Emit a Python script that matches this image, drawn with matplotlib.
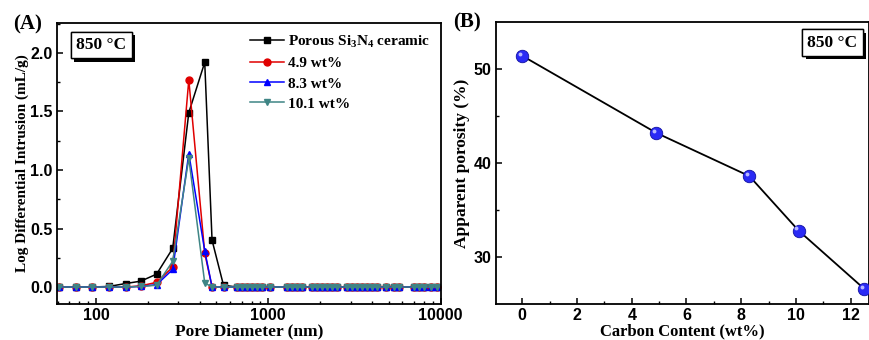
import numpy as np
import matplotlib
matplotlib.use("Agg")
import matplotlib.pyplot as plt
import matplotlib.transforms as mtrans
import matplotlib.patheffects as pe
from matplotlib.ticker import FixedLocator, LogLocator, NullFormatter, MultipleLocator

plt.rcParams['mathtext.fontset'] = 'custom'
plt.rcParams['mathtext.rm'] = 'Liberation Serif:bold'
plt.rcParams['mathtext.bf'] = 'Liberation Serif:bold'

# (A) pore size distribution
pore_d = [61, 76.6, 95, 119, 149, 182, 225, 279, 346, 428, 472, 550,
          658, 703, 752, 804, 859, 918, 1027, 1285, 1374, 1468, 1570, 1795,
          1919, 2051, 2193, 2344, 2506, 2868, 3066, 3278, 3505, 3747, 4006,
          4282, 4790, 5350, 5725, 7000, 7485, 8000, 8750, 9570]
y_si3n4 = [0, 0, 0, 0.005, 0.03, 0.05, 0.11, 0.33, 1.49, 1.92, 0.40, 0.015,
           0, 0, 0, 0, 0, 0, 0, 0, 0, 0, 0, 0, 0, 0, 0, 0, 0, 0, 0, 0,
           0, 0, 0, 0, 0, 0, 0, 0, 0, 0, 0, 0]
y_49 = [0, 0, 0, 0, 0, 0.01, 0.04, 0.17, 1.77, 0.29, 0, 0,
        0, 0, 0, 0, 0, 0, 0, 0, 0, 0, 0, 0, 0, 0, 0, 0, 0, 0, 0, 0,
        0, 0, 0, 0, 0, 0, 0, 0, 0, 0, 0, 0]
y_83 = [0, 0, 0, 0, 0, 0.005, 0.02, 0.15, 1.14, 0.31, 0, 0,
        0, 0, 0, 0, 0, 0, 0, 0, 0, 0, 0, 0, 0, 0, 0, 0, 0, 0, 0, 0,
        0, 0, 0, 0, 0, 0, 0, 0, 0, 0, 0, 0]
y_101 = [0, 0, 0, 0, 0, 0.005, 0.015, 0.22, 1.10, 0.035, 0, 0,
         0, 0, 0, 0, 0, 0, 0, 0, 0, 0, 0, 0, 0, 0, 0, 0, 0, 0, 0, 0,
         0, 0, 0, 0, 0, 0, 0, 0, 0, 0, 0, 0]

# (B) apparent porosity
carbon = [0, 4.9, 8.3, 10.1, 12.5]
porosity = [51.4, 43.2, 38.6, 32.8, 26.6]

serif = 'Liberation Serif'
sans = 'Liberation Sans'

fig = plt.figure(figsize=(8.69, 3.40), dpi=100)
ax1 = fig.add_axes([0.0656, 0.1059, 0.4419, 0.8265])
ax2 = fig.add_axes([0.5708, 0.1059, 0.4292, 0.8294])

series = [(y_si3n4, 'black', 's', r'Porous Si$_{\mathbf{3}}$N$_{\mathbf{4}}$ ceramic'),
          (y_49, '#e00000', 'o', '4.9 wt%'),
          (y_83, '#0000ff', '^', '8.3 wt%'),
          (y_101, '#3f8585', 'v', '10.1 wt%')]
for y, c, m, lab in series:
    ax1.plot(pore_d, y, color=c, marker=m, markersize=5, lw=1.1, label=lab)

ax1.set_xscale('log')
ax1.set_xlim(59.5, 10050)
ax1.set_ylim(-0.145, 2.256)
ax1.xaxis.set_major_locator(FixedLocator([100, 1000, 10000]))
ax1.set_xticklabels(['100', '1000', '10000'])
ax1.xaxis.set_minor_locator(LogLocator(base=10, subs=np.arange(2, 10)))
ax1.xaxis.set_minor_formatter(NullFormatter())
ax1.yaxis.set_minor_locator(MultipleLocator(0.25))
ax1.set_yticks([0, 0.5, 1.0, 1.5, 2.0])
ax1.set_yticklabels(['0.0', '0.5', '1.0', '1.5', '2.0'])
ax1.set_xlabel('Pore Diameter (nm)', family=serif, weight='bold', fontsize=12.5, labelpad=0)
ax1.set_ylabel('Log Differential Intrusion (mL/g)', family=serif, weight='bold', fontsize=11, labelpad=1)

leg = ax1.legend(loc='upper right', frameon=False, handlelength=2.2, handletextpad=0.3,
                 labelspacing=0.42, borderaxespad=0.3,
                 prop={'family': serif, 'weight': 'bold', 'size': 11})

ax2.plot(carbon, porosity, color='black', lw=1.3, zorder=2)
ax2.plot(carbon, porosity, ls='none', marker='o', markersize=9, mfc='#2a2af5',
         mec='#1010a0', mew=0.6, zorder=3, clip_on=False)
hl = ax2.transData + mtrans.ScaledTranslation(-1.6 / 72, 1.6 / 72, fig.dpi_scale_trans)
ax2.plot(carbon, porosity, ls='none', marker='o', markersize=2.8, mfc='#b8b8ff',
         mec='none', transform=hl, zorder=4, clip_on=False)
ax2.set_xlim(-0.96, 12.67)
ax2.set_ylim(25, 55)
ax2.xaxis.set_major_locator(MultipleLocator(2))
ax2.xaxis.set_minor_locator(MultipleLocator(1))
ax2.yaxis.set_major_locator(FixedLocator([30, 40, 50]))
ax2.yaxis.set_minor_locator(FixedLocator([35, 45]))
ax2.set_xlabel('Carbon Content (wt%)', family=serif, weight='bold', fontsize=12, labelpad=0)
ax2.set_ylabel('Apparent porosity (%)', family=serif, weight='bold', fontsize=12.5, labelpad=3)

for ax in (ax1, ax2):
    for s in ax.spines.values():
        s.set_linewidth(1.3)
    ax.tick_params(which='both', direction='in', top=False, right=False)
    ax.tick_params(which='major', length=4, width=1.1, labelsize=11.5, pad=3)
    ax.tick_params(which='minor', length=2.5, width=1.0)
    for t in ax.get_xticklabels() + ax.get_yticklabels():
        t.set_family(sans)
        t.set_weight('bold')


def temp_box(ax, x, y):
    t = ax.text(x, y, '850 \u00b0C', transform=ax.transAxes, family=serif, weight='bold',
                fontsize=12.5, ha='left', va='top', zorder=10,
                bbox=dict(boxstyle='square,pad=0.3', fc='white', ec='black', lw=1.0))
    t.get_bbox_patch().set_path_effects([
        pe.withSimplePatchShadow(offset=(2.5, -2.5), shadow_rgbFace='black', alpha=1.0),
        pe.Normal()])


temp_box(ax1, 0.05, 0.95)
temp_box(ax2, 0.835, 0.955)

fig.text(0.015, 0.958, '(A)', family=serif, weight='bold', fontsize=15, va='top')
fig.text(0.521, 0.962, '(B)', family=serif, weight='bold', fontsize=15, va='top')

fig.savefig('out.png', dpi=100)
